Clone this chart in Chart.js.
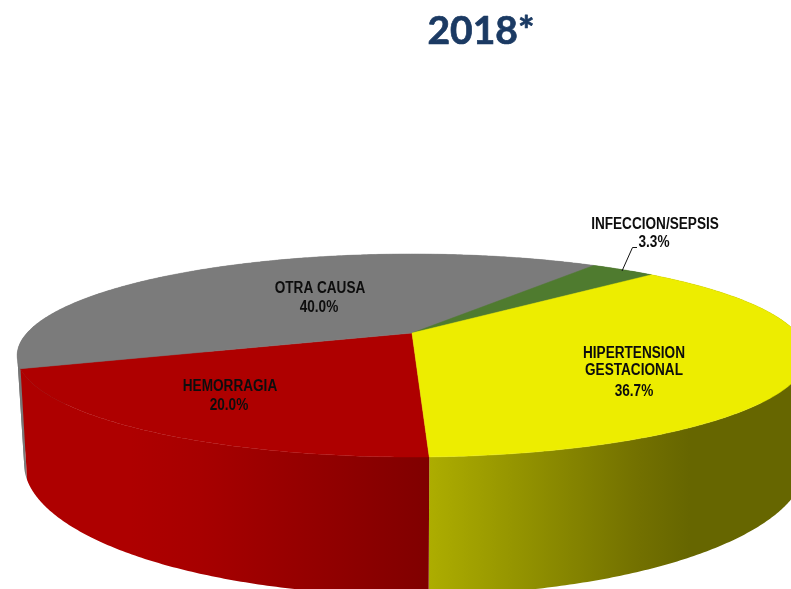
<!DOCTYPE html>
<html>
<head>
<meta charset="utf-8">
<style>html,body{margin:0;padding:0;background:#fff}#wrap{position:relative;width:791px;height:589px;overflow:hidden}</style>
<script src="https://cdn.jsdelivr.net/npm/chart.js@4"></script>
</head>
<body>
<div id="wrap"><canvas id="c" width="791" height="589"></canvas></div>
<script>
const titleText = '2018*';
const categories = ['HEMORRAGIA', 'OTRA CAUSA', 'INFECCION/SEPSIS', 'HIPERTENSION GESTACIONAL'];
const shares = [20.0, 40.0, 3.3, 36.7];
const percentLabels = ['20.0%', '40.0%', '3.3%', '36.7%'];
const topColors = ['#ae0000', '#7b7b7b', '#4f7b2f', '#eded00'];

// Projection of the pie plane to the screen (perspective view from above)
const TOP = {cx: 412, cy: 333, a: 385, b: 96.5, k: 0.2218, rot: 0};
const BOT = {cx: 415, cy: 434.4, a: 381.4, b: 125.6, k: 0.22, rot: 0.007};
function proj(p, t) {
  const u = Math.cos(t + p.rot), v = Math.sin(t + p.rot), w = 1 - p.k * v;
  return [p.cx + p.a * u / w, p.cy + p.b * v / w];
}
function arcPts(p, s, e) {
  const n = Math.max(2, Math.ceil((e - s) / 0.01)), r = [];
  for (let i = 0; i <= n; i++) r.push(proj(p, s + (e - s) * i / n));
  return r;
}
function wallFill(ctx, i) {
  const stops = [
    [[25, '#ae0000'], [130, '#ae0000'], [200, '#a70000'], [429, '#800000']],
    [[18, '#747474'], [26, '#7b7b7b']],
    [[600, '#3c5c22'], [660, '#3c5c22']],
    [[429, '#adad00'], [510, '#969600'], [640, '#727000'], [690, '#666600']]
  ][i];
  const x0 = stops[0][0], x1 = stops[stops.length - 1][0];
  const g = ctx.createLinearGradient(x0, 0, x1, 0);
  stops.forEach(s => g.addColorStop((s[0] - x0) / (x1 - x0), s[1]));
  return g;
}
// Split an angular range at the silhouette so a folded wall does not cancel itself out
function wallRuns(s, e) {
  const pts = arcPts(TOP, s, e), step = (e - s) / (pts.length - 1), runs = [];
  let start = s, dir = 0;
  for (let i = 1; i < pts.length; i++) {
    const d = Math.sign(pts[i][0] - pts[i - 1][0]);
    if (dir && d && d !== dir) { runs.push([start, s + step * (i - 1)]); start = s + step * (i - 1); }
    if (d) dir = d;
  }
  runs.push([start, e]);
  return runs;
}
// placed text: [text, centre x, centre y]
const textLayout = [
  [categories[2], 655, 225], [percentLabels[2], 654, 243],
  ['HIPERTENSION', 634, 354], ['GESTACIONAL', 634, 371], [percentLabels[3], 634, 392],
  [categories[1], 320, 289], [percentLabels[1], 319, 308],
  [categories[0], 230, 387], [percentLabels[0], 229, 406]
];
const pie3d = {
  id: 'pie3d',
  beforeDatasetDraw(chart) {
    const ctx = chart.ctx, arcs = chart.getDatasetMeta(0).data;
    ctx.save();
    [1, 2, 3, 0].forEach(i => {
      ctx.fillStyle = wallFill(ctx, i);
      wallRuns(arcs[i].startAngle, arcs[i].endAngle).forEach(r => {
        const a = arcPts(TOP, r[0], r[1]), b = arcPts(BOT, r[0], r[1]).reverse();
        ctx.beginPath();
        a.concat(b).forEach((q, j) => j ? ctx.lineTo(q[0], q[1]) : ctx.moveTo(q[0], q[1]));
        ctx.closePath();
        ctx.fill();
      });
    });
    arcs.forEach((arc, i) => {
      const pts = arcPts(TOP, arc.startAngle, arc.endAngle);
      ctx.beginPath();
      ctx.moveTo(TOP.cx, TOP.cy);
      pts.forEach(q => ctx.lineTo(q[0], q[1]));
      ctx.closePath();
      ctx.fillStyle = topColors[i];
      ctx.strokeStyle = topColors[i];
      ctx.lineWidth = 0.5;
      ctx.fill();
      ctx.stroke();
    });
    ctx.restore();
    return false;
  },
  afterDraw(chart) {
    const ctx = chart.ctx;
    ctx.save();
    ctx.strokeStyle = '#111';
    ctx.lineWidth = 1;
    ctx.beginPath();
    ctx.moveTo(622, 271); ctx.lineTo(632.5, 247.5); ctx.lineTo(637, 247.5);
    ctx.stroke();
    ctx.textAlign = 'center';
    ctx.textBaseline = 'middle';
    ctx.fillStyle = '#0d0d0d';
    ctx.font = 'bold 16px "Liberation Sans"';
    const narrow = 0.85;
    textLayout.forEach(t => {
      ctx.save();
      ctx.translate(t[1], t[2]);
      ctx.scale(narrow, 1);
      ctx.fillText(t[0], 0, 0);
      ctx.restore();
    });
    ctx.fillStyle = '#1b3a63';
    ctx.strokeStyle = '#1b3a63';
    ctx.lineWidth = 0.7;
    ctx.lineJoin = 'round';
    ctx.font = 'bold 39px Lato';
    ctx.fillText(titleText, 481, 31);
    ctx.strokeText(titleText, 481, 31);
    ctx.restore();
  }
};
new Chart(document.getElementById('c'), {
  type: 'pie',
  data: {labels: categories, datasets: [{data: shares, backgroundColor: topColors, borderWidth: 0}]},
  options: {
    responsive: false,
    animation: false,
    rotation: 178,
    events: [],
    plugins: {legend: {display: false}, tooltip: {enabled: false}, title: {display: false}}
  },
  plugins: [pie3d]
});
</script>
</body>
</html>
